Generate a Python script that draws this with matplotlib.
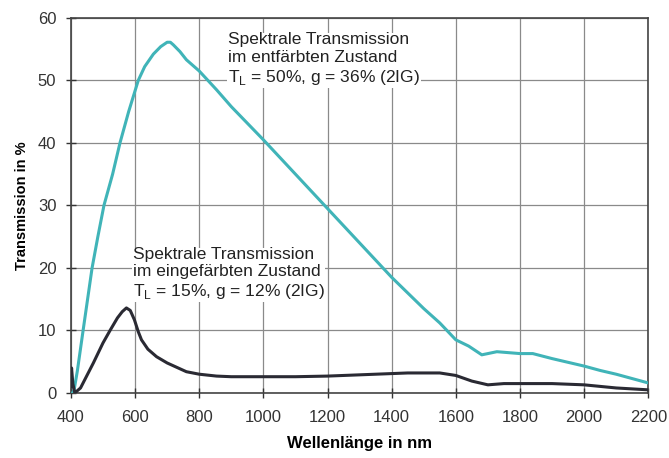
import matplotlib
matplotlib.use("Agg")
import matplotlib.pyplot as plt

plt.rcParams["font.family"] = ["Liberation Sans", "DejaVu Sans"]
plt.rcParams["mathtext.fontset"] = "custom"
plt.rcParams["mathtext.rm"] = "Liberation Sans"

# Entfärbter Zustand (cyan)
wl_hell = [405, 410, 420, 438, 452, 466, 484, 503, 530, 553, 580, 610, 630, 657, 680,
           700, 710, 719, 740, 760, 800, 854, 900, 1000, 1100, 1200, 1300, 1400,
           1450, 1500, 1550, 1600, 1640, 1681, 1700, 1728, 1800, 1840, 1900,
           2000, 2050, 2100, 2150, 2200]
t_hell = [0.0, 0.5, 3.5, 10.0, 15.0, 20.0, 25.0, 30.0, 35.0, 40.0, 45.0, 50.0, 52.2,
          54.2, 55.4, 56.1, 56.1, 55.7, 54.6, 53.3, 51.5, 48.5, 45.8, 40.5, 35.0,
          29.5, 24.0, 18.5, 16.0, 13.5, 11.2, 8.5, 7.5, 6.1, 6.3, 6.6, 6.3, 6.3,
          5.5, 4.3, 3.6, 3.0, 2.3, 1.6]

# Eingefärbter Zustand (schwarz)
wl_dunkel = [400, 402, 406, 412, 430, 470, 500, 522, 545, 560, 573, 585, 598, 610, 620,
             640, 667, 700, 760, 800, 854, 900, 1000, 1100, 1200, 1300, 1400, 1450,
             1550, 1600, 1650, 1700, 1750, 1900, 2000, 2100, 2200]
t_dunkel = [1.0, 4.0, 1.5, 0.0, 0.8, 4.8, 8.0, 10.0, 12.0, 13.0, 13.6, 13.2, 11.7,
            9.8, 8.5, 7.0, 5.8, 4.8, 3.4, 3.0, 2.7, 2.6, 2.6, 2.6, 2.7, 2.9, 3.1,
            3.2, 3.2, 2.8, 1.9, 1.3, 1.5, 1.5, 1.3, 0.8, 0.5]

x_ticks = list(range(400, 2201, 200))
y_ticks = list(range(0, 61, 10))

fig = plt.figure(figsize=(6.69, 4.58), dpi=100, facecolor="white")
ax = fig.add_axes([0.106, 0.142, 0.863, 0.819])

ax.plot(wl_hell, t_hell, color="#40b4b8", lw=2.2, zorder=3)
ax.plot(wl_dunkel, t_dunkel, color="#2a2a33", lw=2.2, zorder=3)

ax.set_xlim(400, 2200)
ax.set_ylim(0, 60)
ax.set_xticks(x_ticks)
ax.set_yticks(y_ticks)
ax.grid(True, color="#8a8a8a", lw=0.9, zorder=0)
ax.set_axisbelow(True)
for sp in ax.spines.values():
    sp.set_color("#444444")
    sp.set_linewidth(1.2)
ax.tick_params(direction="inout", length=7, width=1, colors="#333333",
               labelsize=12)
ax.tick_params(axis="x", pad=9)
ax.tick_params(axis="y", pad=7)

ax.set_xlabel("Wellenlänge in nm", fontsize=12, fontweight="bold", labelpad=8)
ax.set_ylabel("Transmission in %", fontsize=10.5, fontweight="bold", labelpad=6)

box = dict(facecolor="white", edgecolor="none", pad=0.5)
ax.text(0.272, 0.962,
        "Spektrale Transmission\nim entfärbten Zustand\n"
        r"T$_\mathregular{L}$ = 50%, g = 36% (2IG)",
        transform=ax.transAxes, fontsize=12.5, va="top", ha="left",
        color="#222222", linespacing=1.22, bbox=box, zorder=4)
ax.text(0.107, 0.39,
        "Spektrale Transmission\nim eingefärbten Zustand\n"
        r"T$_\mathregular{L}$ = 15%, g = 12% (2IG)",
        transform=ax.transAxes, fontsize=12.5, va="top", ha="left",
        color="#222222", linespacing=1.22, bbox=box, zorder=4)

fig.savefig("out.png", dpi=100, facecolor="white")
